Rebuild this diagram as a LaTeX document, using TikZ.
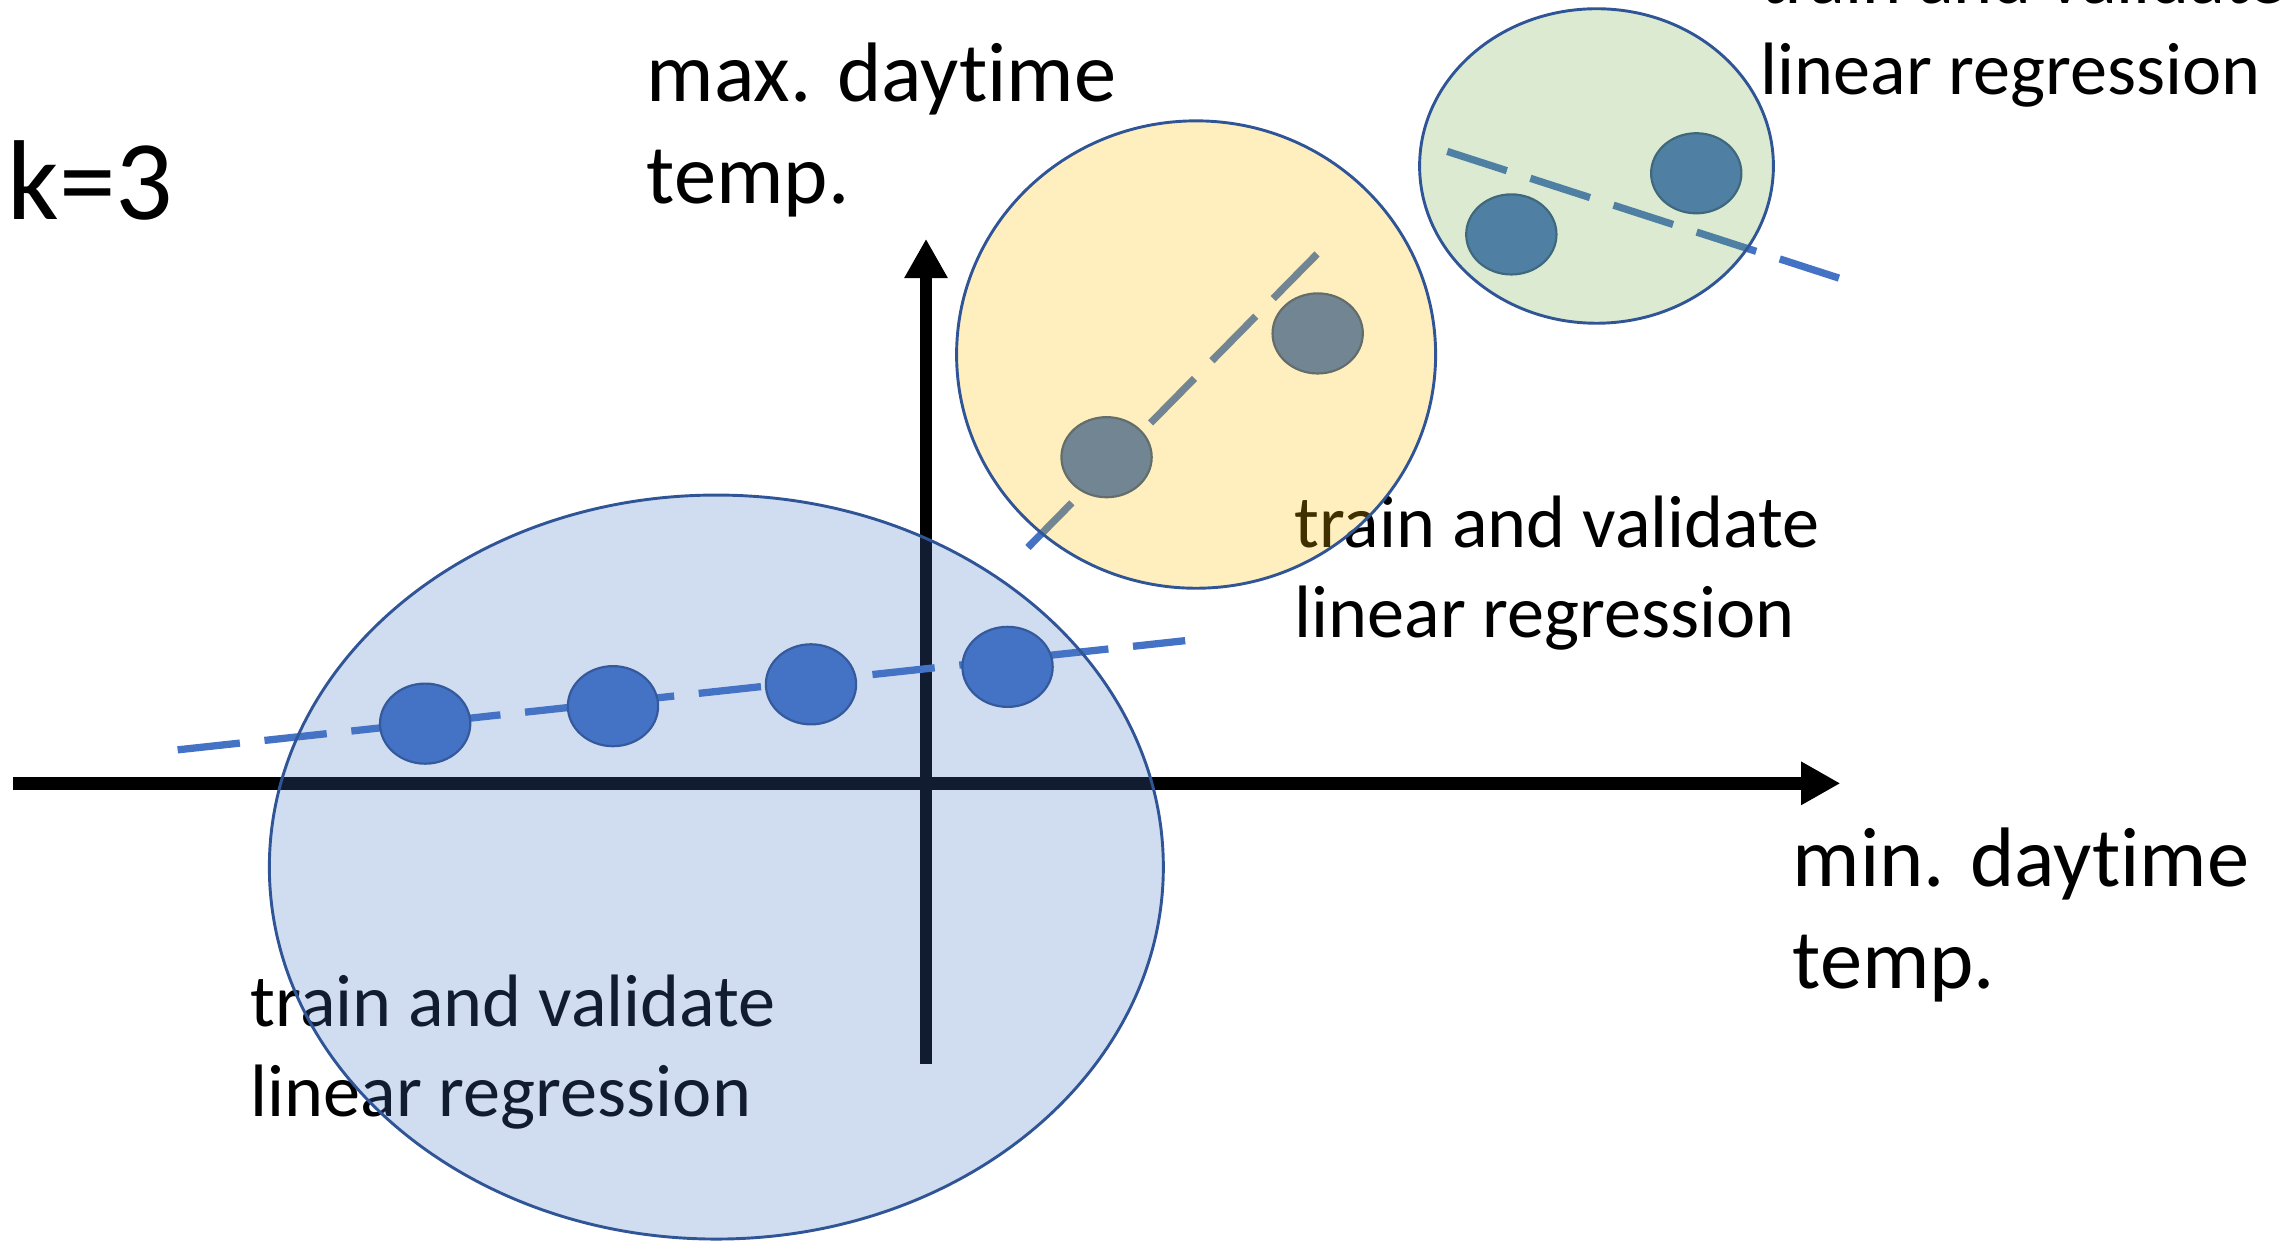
\documentclass[tikz,border=0pt]{standalone}
\usepackage{fontspec}
\setmainfont{Carlito}[Ligatures=NoCommon]
\usetikzlibrary{shapes.geometric,arrows.meta}
\definecolor{dotblue}{HTML}{4472C4}
\definecolor{dotedge}{HTML}{2F528F}
\definecolor{ringblue}{HTML}{2F5597}
\definecolor{ringgold}{HTML}{FFC000}
\definecolor{ringgreen}{HTML}{70AD47}

\begin{document}
\begin{tikzpicture}[x=1pt, y=-1pt, >={Triangle[length=27pt,width=28pt]},
    axis/.style={line width=8.7pt},
    point/.style={ellipse, draw=dotedge, line width=1.5pt, fill=dotblue,
            minimum width=62pt, minimum height=55pt, inner sep=0pt},
    region/.style={ellipse, draw=ringblue, line width=2pt, fill opacity=.25,
            inner sep=0pt},
    regline/.style={dotblue, line width=5pt, dash pattern=on 43pt off 17pt},
    lbl/.style={anchor=base west, align=left, inner sep=0pt,
            font={\fontsize{51}{62}\selectfont}},
    axlbl/.style={lbl, font={\fontsize{58}{70}\selectfont}}]

    \useasboundingbox (0,0) rectangle (1568,852);

    \coordinate (xa) at (9,538);
    \coordinate (xb) at (1264,538);
    \coordinate (ya) at (636,731);
    \coordinate (yb) at (636,164);
    \draw[axis,->] (xa) -- (xb);
    \draw[axis,->] (ya) -- (yb);

    % base anchor sits on the last line
    \node[lbl, font={\fontsize{78}{94}\selectfont}] (k) at (5,151) {k=3};
    \node[axlbl] (ylab) at (444,139.5) {max. daytime\\temp.};
    \node[axlbl] (xlab) at (1231,679) {min. daytime\\temp.};
    \node[lbl] (t1) at (172,767) {train and validate\\linear regression};
    \node[lbl] (t2) at (889,438) {train and validate\\linear regression};
    \node[lbl] (t3) at (1209,64.7) {train and validate\\linear regression};

    \coordinate (l1a) at (122,515);
    \coordinate (l1b) at (814,440);
    \coordinate (l2a) at (706,376);
    \coordinate (l2b) at (906,173);
    \coordinate (l3a) at (994,104);
    \coordinate (l3b) at (1263,191);
    \draw[regline] (l1a) -- (l1b);
    \draw[regline] (l2a) -- (l2b);
    \draw[regline] (l3a) -- (l3b);

    \node[point] (1) at (292,497) {};
    \node[point] (2) at (421,485) {};
    \node[point] (3) at (557,470) {};
    \node[point] (4) at (692,458) {};
    \node[point] (5) at (760,314) {};
    \node[point] (6) at (905,229) {};
    \node[point] (7) at (1038,161) {};
    \node[point] (8) at (1165,119) {};

    \node[region, fill=dotblue, minimum width=614pt, minimum height=511pt]
        (r1) at (492,595.5) {};
    \node[region, fill=ringgold, minimum width=329pt, minimum height=321pt]
        (r2) at (821.5,243.5) {};
    \node[region, fill=ringgreen, minimum width=243pt, minimum height=216pt]
        (r3) at (1096.5,114) {};
\end{tikzpicture}
\end{document}
